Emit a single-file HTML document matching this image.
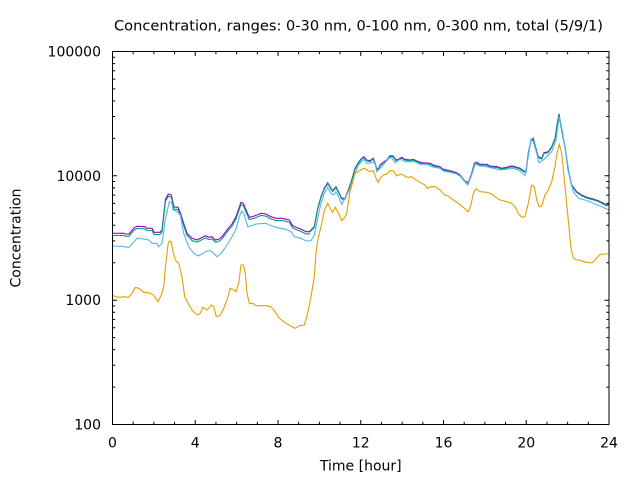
<!DOCTYPE html>
<html>
<head>
<meta charset="utf-8">
<style>
html,body{margin:0;padding:0;background:#fff;}
svg{display:block;}
text{font-family:"DejaVu Sans","Liberation Sans",sans-serif;font-size:14px;fill:#000;}
</style>
</head>
<body>
<svg width="640" height="480" viewBox="0 0 640 480" xmlns="http://www.w3.org/2000/svg" xmlns:xlink="http://www.w3.org/1999/xlink">
<rect x="0" y="0" width="640" height="480" fill="#fff"/>
<defs>
<clipPath id="cA"><rect x="100" y="40" width="210" height="400"/></clipPath>
<clipPath id="cB"><rect x="310" y="40" width="310" height="400"/></clipPath>
<clipPath id="plot"><rect x="112.5" y="51.5" width="496.5" height="373"/></clipPath>
<polyline id="pur" points="112.5,233.3 124,233.3 125.3,234 129,234 134,228 137,226.3 145,226.7 147,228.3 152,228.3 154,232.3 160,232.3 162,230 164,212 165.5,199 168.3,194 171.3,195 174,207 178,207.3 180,212 183.7,223.3 187,233.3 192,238.3 197,240 200.3,238.3 205.3,235.7 208.7,237.3 212,236.7 215.3,240 218.7,239.3 222,236.7 227,230 232,224 236,216.7 241,202.3 243.3,203.3 246,210 249.3,217.3 254.3,216 261,213.3 266,214 269.3,216 276,218.3 282.7,218.3 286,219.3 289.3,220 292.7,225.7 296,227.3 301,229.3 306,231.7 309.3,231.7 314.3,226.7 317.7,208.3 321,196.7 324.3,188.3 327.7,182.7 331,188.3 332.7,190.7 336,186.7 339.3,193.3 341.7,198.3 345,198.3 348.3,190 351.7,180 355,168.3 358.3,162.7 361.7,158.3 364,156.7 366.7,160 370,160.7 373.3,158.3 376.7,168.3 378.3,169.3 380,165 383.3,162.3 386.7,160 390,155.7 393.3,156 396,160 398.3,159.3 401.7,157.3 405,159.3 410,160 413.3,159.3 416.7,161 421.7,162.7 430,163.3 433.3,165 440,166.7 443.3,169.3 450,170.7 456.7,172.7 460,175 465,181 468.3,182.7 471.7,173.3 474.3,163.3 476.7,162.3 480,164.3 486.7,164.3 490,166 496.7,166.7 501.7,168.3 506.7,167.3 511.7,166 515,166.7 520,168.3 523.3,170.7 526,171.7 528.3,153.3 531,140 533.3,138.3 535,145 538.3,156.7 541.7,158.3 544,152.7 548.3,151.7 551.7,146.7 555,138.3 557.3,123.3 559,114 561.7,130 565,146.7 568.3,170 571.7,185 576.7,191.7 581.7,195 586.7,197.3 593.3,199 598.3,200.7 603.3,203.3 606.7,205 609,204"/>
</defs>

<!-- title -->
<text x="358.5" y="30.5" text-anchor="middle" textLength="489" lengthAdjust="spacingAndGlyphs">Concentration, ranges: 0-30 nm, 0-100 nm, 0-300 nm, total (5/9/1)</text>

<!-- y tick labels -->
<text x="101" y="56.5" text-anchor="end">100000</text>
<text x="101" y="181" text-anchor="end">10000</text>
<text x="101" y="305" text-anchor="end">1000</text>
<text x="101" y="429.5" text-anchor="end">100</text>

<!-- x tick labels -->
<text x="112.5" y="447.3" text-anchor="middle">0</text>
<text x="195.25" y="447.3" text-anchor="middle">4</text>
<text x="278" y="447.3" text-anchor="middle">8</text>
<text x="360.75" y="447.3" text-anchor="middle">12</text>
<text x="443.5" y="447.3" text-anchor="middle">16</text>
<text x="526.25" y="447.3" text-anchor="middle">20</text>
<text x="609" y="447.3" text-anchor="middle">24</text>

<!-- axis labels -->
<text x="360.75" y="470.5" text-anchor="middle">Time [hour]</text>
<text x="0" y="0" text-anchor="middle" transform="translate(20.5,238) rotate(-90)">Concentration</text>

<!-- data -->
<g clip-path="url(#plot)" fill="none" stroke-width="1.1" stroke-linejoin="miter">
<use href="#pur" xlink:href="#pur" stroke="#9400d3"/>
<g clip-path="url(#cA)"><use href="#pur" xlink:href="#pur" transform="translate(0,2.2)" stroke="#009e73"/></g>
<g clip-path="url(#cB)"><use href="#pur" xlink:href="#pur" transform="translate(0,0.8)" stroke="#009e73"/></g>
<polyline stroke="#56b4e9" points="112.5,246 125.3,246.7 128.7,247.7 132,244 137,238.3 143.7,239 148.7,240 152,243.3 157,243.3 158.7,246.7 162,243.3 165.3,220 169.3,201.7 172,203.3 173,210 177,211.7 180.3,215 183.7,233.3 188.7,246.7 193.7,253.3 198,256 202,254 207,251 210.3,250.7 213.7,253.3 217,256.7 220.3,254 223.7,250 227,245 232,236.7 236,229.3 239.3,216.7 241.7,211 244.3,215 247.7,226.7 251,226 256,224 266,223.3 269.3,225 276,227.3 286,229.3 291,231.7 294.3,236.7 301,238.3 306,241 311,240.7 314.3,235 317.7,218.3 321,203.3 324.3,193.3 327.7,187.3 331,193.3 333.7,195 336,191.7 339.3,198.3 341.7,204.5 343.3,201.5 346.7,195 351.7,185 355,173.3 358.3,165 361.7,161.7 364,159.3 366.7,163.3 371.7,162.7 375,161.7 376.7,171.7 380,168.3 383.3,165 388.3,158.3 391.7,157.7 395,162.7 400,159.3 405,161.7 415,161.7 420,164.3 426.7,164.3 431.7,166.7 440,168.3 443.3,171 450,172.3 456.7,174 461.7,177.3 467.7,185 471.7,175 475,164 480,166 486.7,166.7 493.3,168.3 500,170 506.7,169.3 513.3,168.3 520,171 525,175.7 528.3,156.7 531,139.3 533.3,141.7 536.7,153.3 539,162.7 543.3,160 546.7,156.7 551.7,151.7 556,140 558.3,123.3 559.5,117 562.7,133.3 566.7,158.3 570,178.3 573.3,191.7 578.3,198.3 585,200 593.3,203.3 600,206 605,208.3 609,210"/>
<polyline stroke="#e69f00" points="112.5,295 115.3,296.7 120.3,297.3 123.7,296.7 128.7,297.3 132,293.3 135.3,287.3 138.7,288.3 143.7,292.3 148.7,292.7 153.7,295 158,301.7 161.3,295 163.7,286.7 165.3,268.3 168,245 169.3,241 171.3,241.7 173,251.7 175.3,260 178.7,263.3 182,276.7 184.7,296.7 188,303.3 192,310 197,315 200.3,313.3 202.7,307.3 207,310 211.3,305 213.7,306.7 216.3,316.7 220.3,315 223.7,308.3 227,300 230.3,288.3 233.7,290 236,291.7 238.7,283.3 241,265 243.3,265 245.3,273.3 247,293.3 249.3,303.3 252.7,303.3 256,305.7 266,305.7 271,306.7 274.3,310.7 279.3,318.3 286,323.3 292.7,327.3 295.3,328.3 299.3,325.7 304.3,325 307.7,313.3 311,296.7 314.3,276.7 316,253.3 317.7,240 321,226.7 324.3,210.7 327.7,203.3 331,210 332.7,212.3 335.3,207.3 339.3,215 341.7,220.7 345,217.3 346.7,213.3 350,191.7 355,173.3 358.3,171.7 361.7,169.3 365,168.3 366.7,170 370,171.7 373.3,170.7 376.7,180 378.3,182.3 380,178.3 383.3,175 386.7,174 390,170.7 393.3,170.7 396.7,176 400,174 403.3,175 406.7,177.3 411.7,176.7 415,179.3 420,182.3 425,185 427.3,188.3 431.7,186.7 435,186.7 440,190 445,195.3 448.3,196 453.3,200 458.3,203.3 463.3,207.3 468.3,211.7 471,205 473.3,193.3 476,188.7 480,191.7 486.7,192.3 491.7,194 495,196.7 500,200 506.7,201.7 511.7,203.3 515,206.7 518.3,213.3 521.7,217.3 525,216.7 528.3,203.3 531.7,185 534.3,186.7 536.7,200 539.3,206.7 541.7,206 545,195 548.3,190 551.7,181.7 555,166.7 557.3,151.7 559.3,144.3 561.7,153.3 565,186.7 568.3,220 571,248.3 573.3,258.3 576.7,260 580,260 583.3,261.7 588.3,262.7 592.7,262.7 595,260 599.3,255 603.3,254 609,254"/>
</g>

<!-- ticks -->
<g stroke="#000" stroke-width="1" fill="none">
<path d="M195.25 424.5v-4.5M278 424.5v-4.5M360.75 424.5v-4.5M443.5 424.5v-4.5M526.25 424.5v-4.5
M195.25 51.5v4.5M278 51.5v4.5M360.75 51.5v4.5M443.5 51.5v4.5M526.25 51.5v4.5"/>
<path d="M133.19 424.5v-2.7M153.88 424.5v-2.7M174.56 424.5v-2.7M215.94 424.5v-2.7M236.63 424.5v-2.7M257.31 424.5v-2.7M298.69 424.5v-2.7M319.38 424.5v-2.7M340.06 424.5v-2.7M381.44 424.5v-2.7M402.13 424.5v-2.7M422.81 424.5v-2.7M464.19 424.5v-2.7M484.88 424.5v-2.7M505.56 424.5v-2.7M546.94 424.5v-2.7M567.63 424.5v-2.7M588.31 424.5v-2.7
M133.19 51.5v2.7M153.88 51.5v2.7M174.56 51.5v2.7M215.94 51.5v2.7M236.63 51.5v2.7M257.31 51.5v2.7M298.69 51.5v2.7M319.38 51.5v2.7M340.06 51.5v2.7M381.44 51.5v2.7M402.13 51.5v2.7M422.81 51.5v2.7M464.19 51.5v2.7M484.88 51.5v2.7M505.56 51.5v2.7M546.94 51.5v2.7M567.63 51.5v2.7M588.31 51.5v2.7"/>
<path d="M112.5 300.2h4.5M112.5 175.8h4.5M609 300.2h-4.5M609 175.8h-4.5"/>
<path d="M112.5 387.1h2.7M112.5 365.2h2.7M112.5 349.6h2.7M112.5 337.6h2.7M112.5 327.8h2.7M112.5 319.4h2.7M112.5 312.2h2.7M112.5 305.9h2.7
M112.5 262.7h2.7M112.5 240.9h2.7M112.5 225.3h2.7M112.5 213.3h2.7M112.5 203.4h2.7M112.5 195.1h2.7M112.5 187.9h2.7M112.5 181.5h2.7
M112.5 138.4h2.7M112.5 116.5h2.7M112.5 101h2.7M112.5 88.9h2.7M112.5 79.1h2.7M112.5 70.8h2.7M112.5 63.6h2.7M112.5 57.2h2.7
M609 387.1h-2.7M609 365.2h-2.7M609 349.6h-2.7M609 337.6h-2.7M609 327.8h-2.7M609 319.4h-2.7M609 312.2h-2.7M609 305.9h-2.7
M609 262.7h-2.7M609 240.9h-2.7M609 225.3h-2.7M609 213.3h-2.7M609 203.4h-2.7M609 195.1h-2.7M609 187.9h-2.7M609 181.5h-2.7
M609 138.4h-2.7M609 116.5h-2.7M609 101h-2.7M609 88.9h-2.7M609 79.1h-2.7M609 70.8h-2.7M609 63.6h-2.7M609 57.2h-2.7"/>
<rect x="112.5" y="51.5" width="496.5" height="373"/>
</g>
</svg>
</body>
</html>
